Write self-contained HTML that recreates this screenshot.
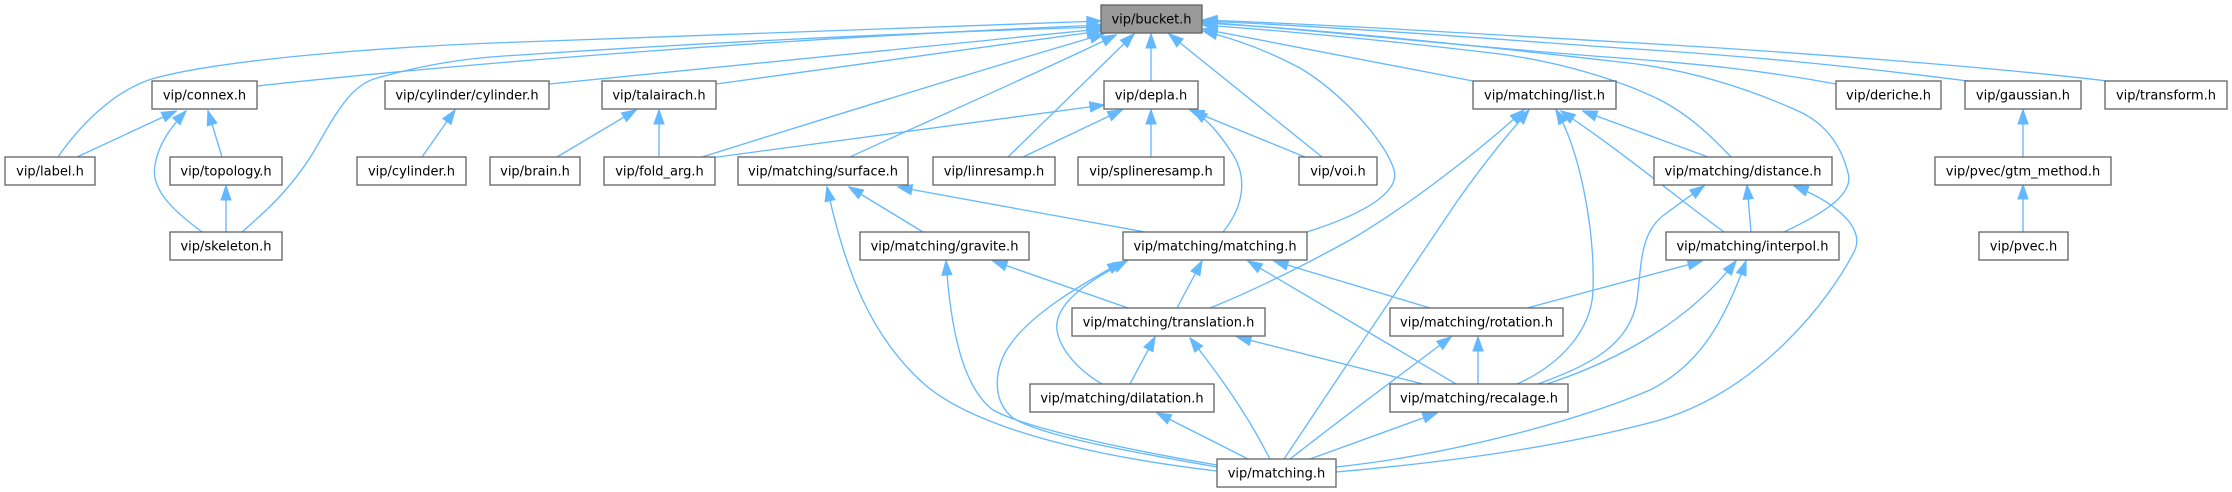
<!DOCTYPE html>
<html>
<head>
<meta charset="utf-8">
<style>
html,body{margin:0;padding:0;background:#fff;}
svg{display:block;}
.e path{fill:none;stroke:#63b8ff;stroke-width:1.33;}
.n rect{fill:#fff;stroke:#666;stroke-width:1.33;}
.n text{font-family:"DejaVu Sans","Liberation Sans",sans-serif;font-size:13px;fill:#000;text-anchor:middle;}
</style>
</head>
<body>
<svg width="2232" height="492" viewBox="0 0 2232 492" xmlns="http://www.w3.org/2000/svg">
<defs>
<marker id="a" markerUnits="userSpaceOnUse" markerWidth="16" markerHeight="12" viewBox="-1 -1 15.3 11.3" refX="13.3" refY="4.65" orient="auto">
<path d="M0,0 L13.3,4.65 L0,9.3 Z" fill="#63b8ff" stroke="#63b8ff" stroke-width="1.2"/>
</marker>
</defs>
<g class="e">
<!-- into bucket -->
<path marker-end="url(#a)" d="M58,157 C85,118 120,88 155,78 C230,58 400,46 520,42 C700,35 900,27 1101,21"/>
<path marker-end="url(#a)" d="M257,86 C450,65 750,40 1101,25"/>
<path marker-end="url(#a)" d="M242,232 C265,212 290,190 313,153 C335,115 350,85 377,78 C420,66 460,58 520,55 C700,43 900,33 1101,27"/>
<path marker-end="url(#a)" d="M549,84 L1101,29"/>
<path marker-end="url(#a)" d="M716,84 L1101,31"/>
<path marker-end="url(#a)" d="M702,157 C820,120 980,70 1104,34"/>
<path marker-end="url(#a)" d="M850,157 C930,120 1040,72 1116,35"/>
<path marker-end="url(#a)" d="M1008,157 L1134,34"/>
<path marker-end="url(#a)" d="M1151,81 L1151,34"/>
<path marker-end="url(#a)" d="M1322,157 L1169,34"/>
<path marker-end="url(#a)" d="M1307,232 C1370,212 1400,190 1394,170 C1385,140 1340,92 1300,68 C1270,52 1240,40 1203,31"/>
<path marker-end="url(#a)" d="M1473,81 L1203,29"/>
<path marker-end="url(#a)" d="M1731,157 C1715,140 1690,115 1660,100 C1620,80 1560,62 1500,54 C1400,42 1300,32 1203,25"/>
<path marker-end="url(#a)" d="M1784,232 C1820,215 1855,195 1848,173 C1840,140 1820,120 1796,110 C1740,85 1680,68 1620,62 C1480,46 1330,30 1203,23"/>
<path marker-end="url(#a)" d="M1836,84 C1760,70 1700,64 1620,58 C1480,48 1340,32 1203,22"/>
<path marker-end="url(#a)" d="M1968,81 C1850,66 1750,56 1620,48 C1480,38 1340,27 1203,21"/>
<path marker-end="url(#a)" d="M2107,81 C2000,68 1800,52 1620,42 C1480,34 1340,25 1203,20"/>
<!-- connex / topology -->
<path marker-end="url(#a)" d="M77,157 L176,111"/>
<path marker-end="url(#a)" d="M202,232 C175,212 150,190 155,165 C158,145 170,128 186,111"/>
<path marker-end="url(#a)" d="M222,157 L208,111"/>
<path marker-end="url(#a)" d="M226,232 L226,186"/>
<!-- cylinder / talairach -->
<path marker-end="url(#a)" d="M422,157 L455,110"/>
<path marker-end="url(#a)" d="M557,157 L636,110"/>
<path marker-end="url(#a)" d="M659,157 L659,110"/>
<!-- depla -->
<path marker-end="url(#a)" d="M710,158 L1104,105"/>
<path marker-end="url(#a)" d="M1023,157 L1122,110"/>
<path marker-end="url(#a)" d="M1151,157 L1151,110"/>
<path marker-end="url(#a)" d="M1305,157 L1190,110"/>
<path marker-end="url(#a)" d="M1223,232 C1245,205 1248,175 1230,150 C1220,135 1210,122 1193,110"/>
<!-- surface -->
<path marker-end="url(#a)" d="M923,232 L849,187"/>
<path marker-end="url(#a)" d="M1145,232 L898,187"/>
<path marker-end="url(#a)" d="M1217,471 C1080,455 970,425 923,383 C870,335 845,270 827,187"/>
<!-- gravite -->
<path marker-end="url(#a)" d="M1128,308 L993,261"/>
<path marker-end="url(#a)" d="M1217,465 C1100,445 1020,425 993,410 C960,385 950,320 946,261"/>
<!-- matching/matching -->
<path marker-end="url(#a)" d="M1177,308 L1202,261"/>
<path marker-end="url(#a)" d="M1102,384 C1070,365 1055,340 1057,323 C1060,300 1090,280 1127,261"/>
<path marker-end="url(#a)" d="M1217,467 C1120,450 1040,435 1013,418 C990,400 995,365 1010,345 C1030,315 1080,285 1122,262"/>
<path marker-end="url(#a)" d="M1430,308 L1274,261"/>
<path marker-end="url(#a)" d="M1456,384 L1248,261"/>
<!-- translation -->
<path marker-end="url(#a)" d="M1130,384 L1155,337"/>
<path marker-end="url(#a)" d="M1423,384 L1237,337"/>
<path marker-end="url(#a)" d="M1270,459 C1255,430 1235,395 1190,338"/>
<!-- dilatation / rotation / recalage -->
<path marker-end="url(#a)" d="M1248,459 L1157,413"/>
<path marker-end="url(#a)" d="M1478,384 L1478,337"/>
<path marker-end="url(#a)" d="M1290,459 C1340,420 1400,375 1451,337"/>
<path marker-end="url(#a)" d="M1310,459 L1437,413"/>
<!-- list -->
<path marker-end="url(#a)" d="M1708,157 L1583,111"/>
<path marker-end="url(#a)" d="M1724,232 C1680,200 1620,150 1561,111"/>
<path marker-end="url(#a)" d="M1517,384 C1560,365 1592,330 1593,290 C1595,230 1580,150 1556,110"/>
<path marker-end="url(#a)" d="M1210,308 C1260,288 1310,262 1350,240 C1410,205 1480,150 1524,110"/>
<path marker-end="url(#a)" d="M1284,459 C1340,375 1410,270 1458,200 C1490,155 1510,132 1529,110"/>
<!-- interpol -->
<path marker-end="url(#a)" d="M1527,308 L1702,261"/>
<path marker-end="url(#a)" d="M1547,384 C1620,360 1690,320 1736,261"/>
<path marker-end="url(#a)" d="M1336,467 C1450,455 1580,420 1650,390 C1700,365 1725,320 1746,261"/>
<!-- distance -->
<path marker-end="url(#a)" d="M1751,232 L1747,185"/>
<path marker-end="url(#a)" d="M1538,384 C1590,365 1630,345 1637,300 C1642,260 1640,230 1668,212 C1680,203 1690,196 1704,186"/>
<path marker-end="url(#a)" d="M1336,472 C1450,462 1560,447 1660,420 C1760,390 1830,300 1855,250 C1865,225 1830,200 1794,186"/>
<!-- gaussian / gtm -->
<path marker-end="url(#a)" d="M2023,157 L2023,110"/>
<path marker-end="url(#a)" d="M2023,232 L2023,185"/>
</g>
<g class="n">
<rect x="1101" y="5" width="101" height="28" style="fill:#999999"/><text x="1151.5" y="23.5">vip/bucket.h</text>
<rect x="152" y="81" width="105" height="28"/><text x="204.5" y="99.5">vip/connex.h</text>
<rect x="385" y="81" width="164" height="28"/><text x="467" y="99.5">vip/cylinder/cylinder.h</text>
<rect x="602" y="81" width="114" height="28"/><text x="659" y="99.5">vip/talairach.h</text>
<rect x="1104" y="81" width="94" height="28"/><text x="1151" y="99.5">vip/depla.h</text>
<rect x="1473" y="81" width="143" height="28"/><text x="1544.5" y="99.5">vip/matching/list.h</text>
<rect x="1836" y="81" width="105" height="28"/><text x="1888.5" y="99.5">vip/deriche.h</text>
<rect x="1965" y="81" width="116" height="28"/><text x="2023" y="99.5">vip/gaussian.h</text>
<rect x="2105" y="81" width="122" height="28"/><text x="2166" y="99.5">vip/transform.h</text>
<rect x="5" y="157" width="90" height="28"/><text x="50" y="175.5">vip/label.h</text>
<rect x="170" y="157" width="112" height="28"/><text x="226" y="175.5">vip/topology.h</text>
<rect x="357" y="157" width="109" height="28"/><text x="411.5" y="175.5">vip/cylinder.h</text>
<rect x="490" y="157" width="90" height="28"/><text x="535" y="175.5">vip/brain.h</text>
<rect x="604" y="157" width="111" height="28"/><text x="659.5" y="175.5">vip/fold_arg.h</text>
<rect x="738" y="157" width="170" height="28"/><text x="823" y="175.5">vip/matching/surface.h</text>
<rect x="933" y="157" width="122" height="28"/><text x="994" y="175.5">vip/linresamp.h</text>
<rect x="1078" y="157" width="146" height="28"/><text x="1151" y="175.5">vip/splineresamp.h</text>
<rect x="1299" y="157" width="78" height="28"/><text x="1338" y="175.5">vip/voi.h</text>
<rect x="1654" y="157" width="178" height="28"/><text x="1743" y="175.5">vip/matching/distance.h</text>
<rect x="1935" y="157" width="176" height="28"/><text x="2023" y="175.5">vip/pvec/gtm_method.h</text>
<rect x="170" y="232" width="112" height="28"/><text x="226" y="250.5">vip/skeleton.h</text>
<rect x="860" y="232" width="169" height="28"/><text x="944.5" y="250.5">vip/matching/gravite.h</text>
<rect x="1123" y="232" width="184" height="28"/><text x="1215" y="250.5">vip/matching/matching.h</text>
<rect x="1666" y="232" width="173" height="28"/><text x="1752.5" y="250.5">vip/matching/interpol.h</text>
<rect x="1979" y="232" width="89" height="28"/><text x="2023.5" y="250.5">vip/pvec.h</text>
<rect x="1072" y="308" width="193" height="28"/><text x="1168.5" y="326.5">vip/matching/translation.h</text>
<rect x="1390" y="308" width="173" height="28"/><text x="1476.5" y="326.5">vip/matching/rotation.h</text>
<rect x="1030" y="384" width="184" height="28"/><text x="1122" y="402.5">vip/matching/dilatation.h</text>
<rect x="1390" y="384" width="178" height="28"/><text x="1479" y="402.5">vip/matching/recalage.h</text>
<rect x="1217" y="459" width="119" height="28"/><text x="1276.5" y="477.5">vip/matching.h</text>
</g>
</svg>
</body>
</html>
